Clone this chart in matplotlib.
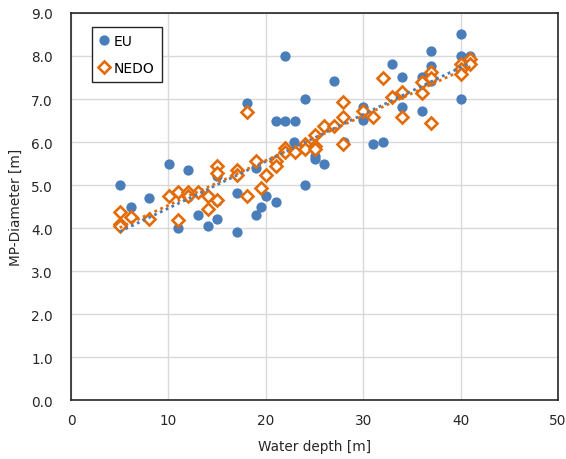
import numpy as np
import matplotlib.pyplot as plt

# EU turbines: water depth [m] vs MP diameter [m]
eu_depth = [5.0, 6.2, 8.0, 10.1, 11.0, 12.0, 12.0, 13.0, 14.1, 14.1, 15.0, 15.0, 15.0,
            17.0, 17.0, 18.1, 18.1, 19.0, 19.0, 19.5, 20.0, 21.0, 21.0, 22.0, 22.0,
            23.0, 22.9, 24.0, 24.0, 25.0, 25.0, 26.0, 27.0, 28.0, 30.0, 30.0, 31.0,
            32.0, 33.0, 34.0, 34.0, 36.0, 36.0, 37.0, 37.0, 37.0, 40.0, 40.0, 40.0, 41.0]
eu_diam = [5.0, 4.5, 4.7, 5.5, 4.0, 5.35, 4.72, 4.3, 4.05, 4.74, 5.22, 4.63, 4.21,
           4.81, 3.9, 6.9, 4.74, 4.3, 5.4, 4.5, 4.74, 6.5, 4.61, 8.0, 6.5,
           6.5, 6.0, 7.0, 5.0, 5.67, 5.6, 5.5, 7.41, 6.0, 6.81, 6.51, 5.95,
           6.0, 7.81, 7.51, 6.81, 7.51, 6.72, 8.11, 7.77, 7.42, 8.5, 8.0, 7.0, 8.0]

# NEDO design cases
nedo_depth = [5.0, 5.0, 5.0, 6.2, 8.0, 10.1, 11.0, 11.0, 12.0, 12.0, 13.0, 14.1, 14.1,
              15.0, 15.0, 15.0, 17.0, 17.0, 18.1, 18.1, 19.0, 19.5, 20.0, 21.0, 21.0,
              22.0, 22.0, 23.0, 24.0, 24.0, 25.0, 25.0, 25.0, 26.0, 27.0, 27.9, 27.9,
              27.9, 30.0, 31.0, 32.0, 33.0, 34.0, 34.0, 36.0, 36.0, 37.0, 37.0, 37.0,
              40.0, 40.0, 40.0, 41.0, 41.0]
nedo_diam = [4.37, 4.09, 4.05, 4.26, 4.21, 4.74, 4.84, 4.18, 4.84, 4.74, 4.84, 4.74, 4.44,
             5.44, 5.28, 4.65, 5.35, 5.24, 6.7, 4.74, 5.56, 4.93, 5.23, 5.55, 5.45,
             5.86, 5.77, 5.76, 5.95, 5.84, 6.16, 5.91, 5.84, 6.37, 6.37, 6.93, 6.58,
             5.95, 6.72, 6.58, 7.49, 7.05, 7.16, 6.58, 7.4, 7.14, 7.63, 7.49, 6.44,
             7.81, 7.7, 7.58, 7.93, 7.81]

blue = '#4a7ebb'
orange = '#e36c0a'
txt = '#262626'

plt.rcParams['font.family'] = 'DejaVu Sans'
fig = plt.figure(figsize=(5.66, 4.60), dpi=100)
ax = fig.add_axes([0.1254, 0.128, 0.8606, 0.8416])

ax.plot(eu_depth, eu_diam, 'o', color=blue, ms=7.4, mec='none', label='EU', zorder=3)
ax.plot(nedo_depth, nedo_diam, 'D', color=orange, mfc='white', ms=6.6, mew=1.9,
        label='NEDO', zorder=4)

# linear trend lines, one per series
for xs, ys, c in [(eu_depth, eu_diam, blue), (nedo_depth, nedo_diam, orange)]:
    k, b = np.polyfit(xs, ys, 1)
    xx = np.array([min(xs), max(xs)])
    ax.plot(xx, k * xx + b, ls=(0, (1, 1.3)), lw=2, color=c, zorder=5)

ax.set_xlim(0, 50)
ax.set_ylim(0, 9)
ax.set_xticks(np.arange(0, 51, 10))
ax.set_yticks(np.arange(0, 9.1, 1))
ax.set_yticklabels([f'{v:.1f}' for v in np.arange(0, 9.1, 1)])
ax.tick_params(length=0, labelsize=9.8, colors=txt)
ax.tick_params(axis='y', pad=13)
ax.tick_params(axis='x', pad=9)
ax.grid(color='#d9d9d9', lw=1)
ax.set_axisbelow(True)
for s in ax.spines.values():
    s.set_color(txt)
    s.set_linewidth(1.2)

ax.set_xlabel('Water depth [m]', fontsize=9.8, color=txt, labelpad=9)
ax.set_ylabel('MP-Diameter [m]', fontsize=9.8, color=txt, labelpad=6)

leg = ax.legend(loc='upper left', bbox_to_anchor=(0.043, 0.965), borderaxespad=0,
                fancybox=False, edgecolor=txt, framealpha=1, fontsize=10,
                handlelength=0.6, handletextpad=0.4, labelspacing=0.9, borderpad=0.55)
leg.get_frame().set_linewidth(1.0)

fig.savefig('out.png', dpi=100)
